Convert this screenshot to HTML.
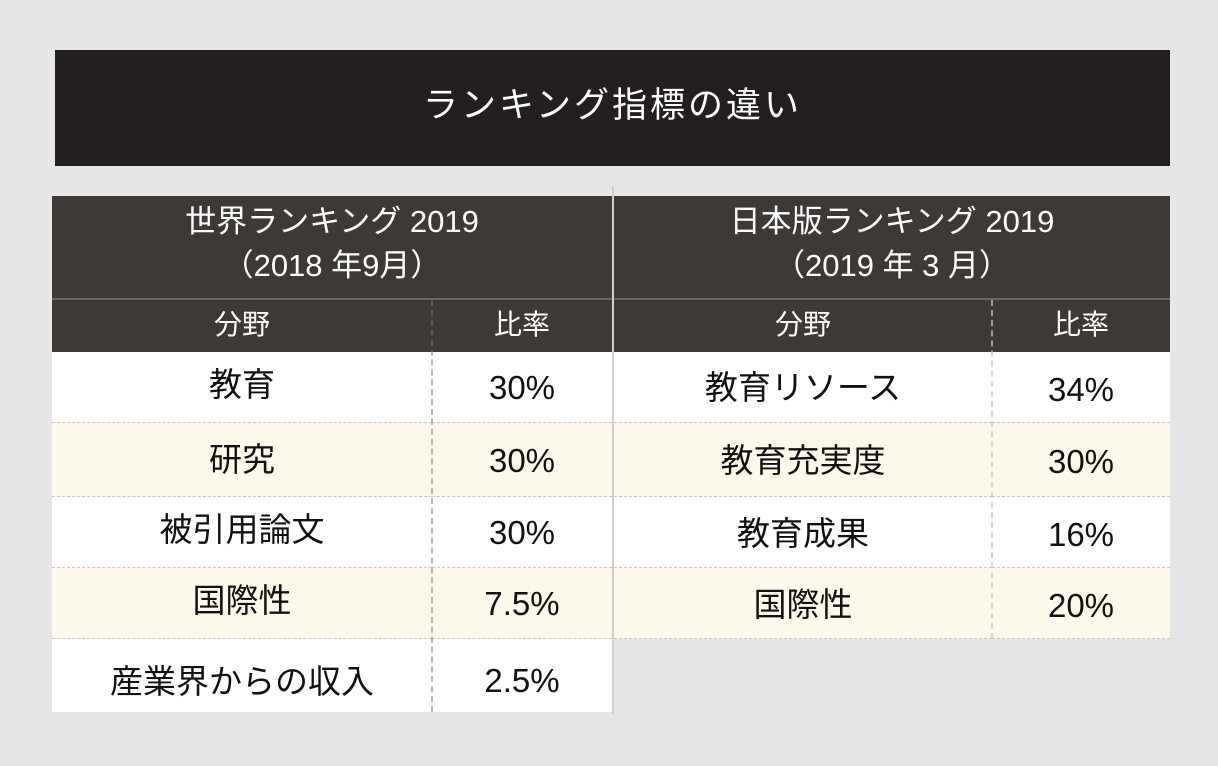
<!DOCTYPE html>
<html><head><meta charset="utf-8"><style>
body{margin:0;width:1218px;height:766px;background:#e6e6e6;position:relative;overflow:hidden;font-family:"Liberation Sans","Noto Sans CJK JP",sans-serif}
div{position:absolute;box-sizing:border-box}
.t{left:55px;top:50px;width:1115px;height:116px;background:#231f20;color:#fff;font-size:35px;text-align:center;line-height:112px;letter-spacing:3px}
.h{background:#3d3937;color:#fff;text-align:center;font-size:31px;line-height:44px;padding-top:4px}
.s{background:#3d3937;color:#fff;text-align:center;font-size:28px;line-height:50px;border-top:2px solid #6a6664}
.c{text-align:center;font-size:33px;color:#111;border-bottom:1px dashed #c8c8c8}
.n{font-family:"Liberation Sans Narrow","Liberation Sans",sans-serif;font-size:33px}
.vd{border-left:2px dashed #c8c8c8;width:0}
</style></head><body>
<div class="t">ランキング指標の違い</div>
<div style="left:612px;top:186px;width:2px;height:528px;background:#cfcfcf"></div>
<div class="h" style="left:52px;top:196px;width:560px;height:104px">世界ランキング 2019<br>（2018 年9月）</div>
<div class="h" style="left:614px;top:196px;width:556px;height:104px">日本版ランキング 2019<br>（2019 年 3 月）</div>
<div class="s" style="left:52px;top:298px;width:380px;height:54px">分野</div>
<div class="s" style="left:432px;top:298px;width:180px;height:54px">比率</div>
<div class="s" style="left:614px;top:298px;width:378px;height:54px">分野</div>
<div class="s" style="left:992px;top:298px;width:178px;height:54px">比率</div>

<div class="c" style="left:52px;top:352px;width:380px;height:71px;line-height:66px;background:#fff">教育</div>
<div class="c n" style="left:432px;top:352px;width:180px;height:71px;line-height:72px;background:#fff">30%</div>
<div class="c" style="left:52px;top:423px;width:380px;height:74px;line-height:74px;background:#fcf9ea">研究</div>
<div class="c n" style="left:432px;top:423px;width:180px;height:74px;line-height:76px;background:#fcf9ea">30%</div>
<div class="c" style="left:52px;top:497px;width:380px;height:71px;line-height:66px;background:#fff">被引用論文</div>
<div class="c n" style="left:432px;top:497px;width:180px;height:71px;line-height:72px;background:#fff">30%</div>
<div class="c" style="left:52px;top:568px;width:380px;height:71px;line-height:66px;background:#fcf9ea">国際性</div>
<div class="c n" style="left:432px;top:568px;width:180px;height:71px;line-height:72px;background:#fcf9ea">7.5%</div>
<div class="c" style="left:52px;top:639px;width:380px;height:73px;line-height:86px;background:#fff;border:none">産業界からの収入</div>
<div class="c n" style="left:432px;top:639px;width:180px;height:73px;line-height:84px;background:#fff;border:none">2.5%</div>

<div class="c" style="left:614px;top:352px;width:378px;height:71px;line-height:72px;background:#fff">教育リソース</div>
<div class="c n" style="left:992px;top:352px;width:178px;height:71px;line-height:76px;background:#fff">34%</div>
<div class="c" style="left:614px;top:423px;width:378px;height:74px;line-height:76px;background:#fcf9ea">教育充実度</div>
<div class="c n" style="left:992px;top:423px;width:178px;height:74px;line-height:78px;background:#fcf9ea">30%</div>
<div class="c" style="left:614px;top:497px;width:378px;height:71px;line-height:74px;background:#fff">教育成果</div>
<div class="c n" style="left:992px;top:497px;width:178px;height:71px;line-height:76px;background:#fff">16%</div>
<div class="c" style="left:614px;top:568px;width:378px;height:71px;line-height:74px;background:#fcf9ea">国際性</div>
<div class="c n" style="left:992px;top:568px;width:178px;height:71px;line-height:76px;background:#fcf9ea">20%</div>

<div class="vd" style="left:431px;top:300px;height:412px;border-color:#777;opacity:.5"></div>
<div class="vd" style="left:991px;top:300px;height:339px;opacity:.7"></div>
</body></html>
